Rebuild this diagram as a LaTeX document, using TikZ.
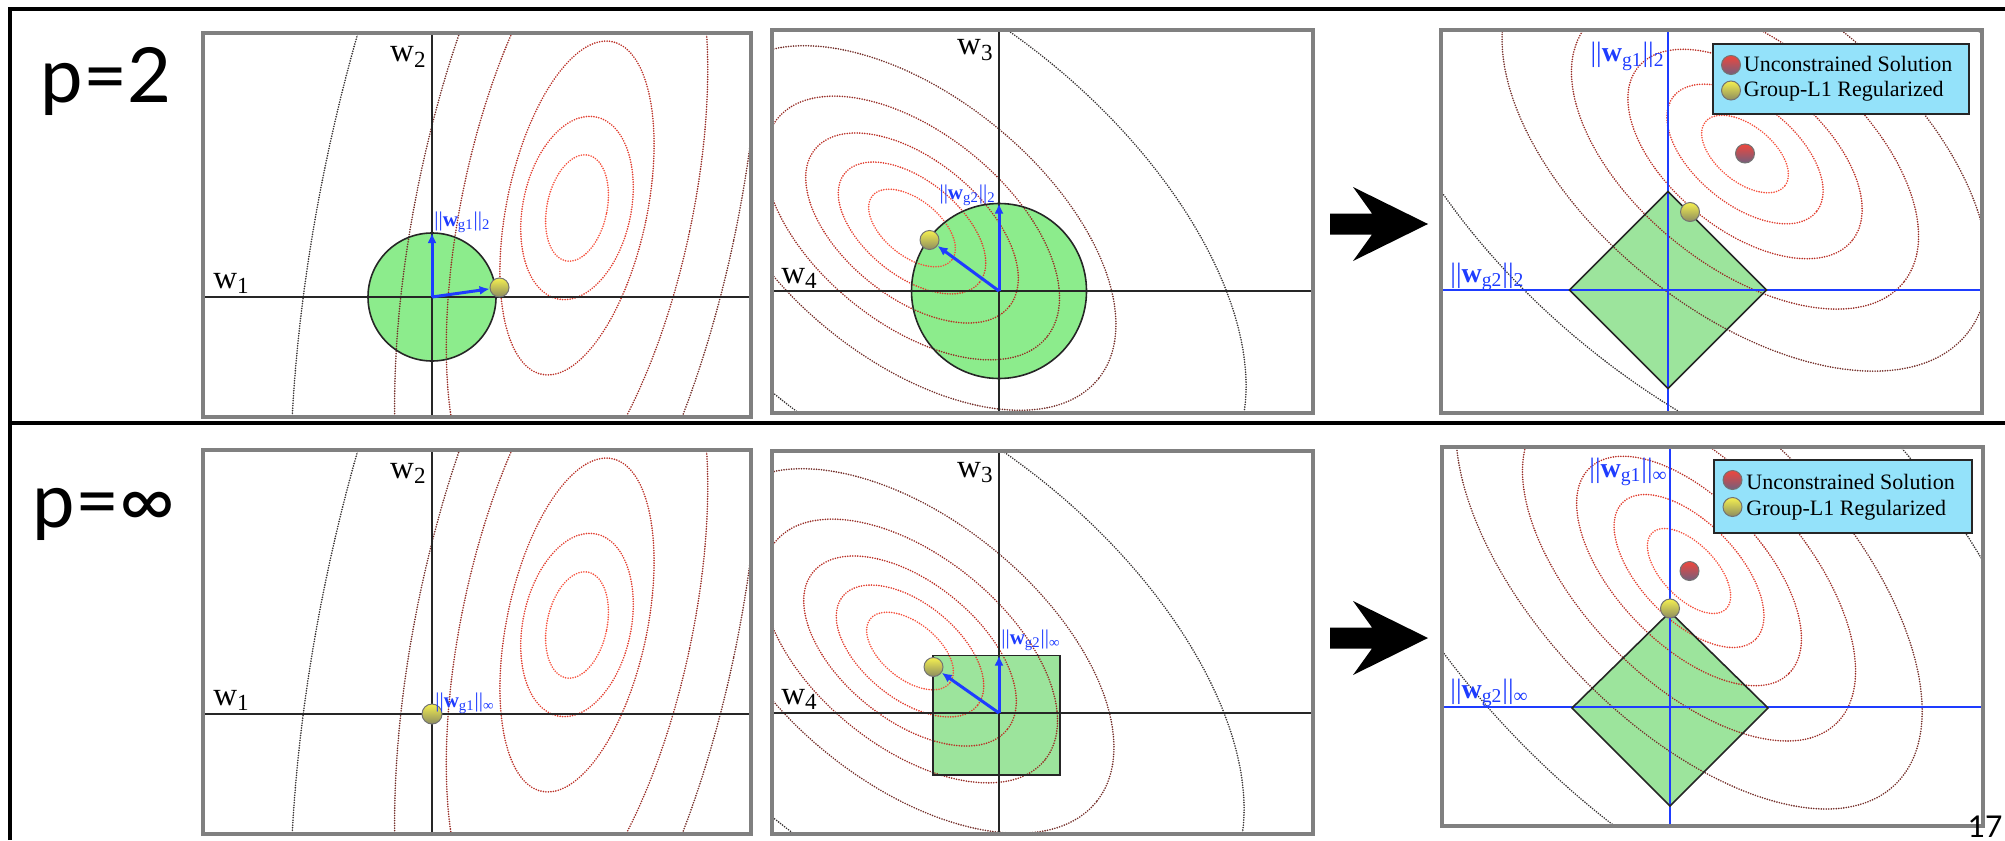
\documentclass[tikz,border=0pt]{standalone}
\usepackage{fontspec}
\setmainfont{Liberation Serif}
\newfontfamily\gill{Lato}
\usetikzlibrary{arrows.meta}
\definecolor{panelgray}{RGB}{128,128,128}
\definecolor{normblue}{RGB}{30,60,255}
\definecolor{circgreen}{RGB}{140,236,140}
\definecolor{diagreen}{RGB}{156,228,156}
\definecolor{legcyan}{RGB}{148,226,250}
\definecolor{lvA}{RGB}{245,80,60}
\definecolor{lvB}{RGB}{225,60,45}
\definecolor{lvC}{RGB}{185,45,35}
\definecolor{lvD}{RGB}{150,42,35}
\definecolor{lvE}{RGB}{115,45,40}
\definecolor{lvF}{RGB}{55,50,50}
\definecolor{ytop}{RGB}{245,240,80}
\definecolor{ybot}{RGB}{140,140,95}
\definecolor{rtop}{RGB}{240,70,60}
\definecolor{rbot}{RGB}{115,95,125}
\tikzset{
  panelbox/.style={draw=panelgray, line width=1.8pt},
  waxis/.style={draw=black!85, line width=1.2pt},
  baxis/.style={draw=normblue, line width=1.2pt},
  lvl/.style={line width=0.9pt, line cap=round, dash pattern=on 0pt off 1.25pt},
  normarrow/.style={draw=normblue, line width=1.5pt, -{Latex[length=5pt,width=4.5pt]}},
  wlabel/.style={font=\fontsize{16.5}{18}\selectfont, inner sep=0pt},
  nlabel/.style={text=normblue, font=\fontsize{10.5}{12}\selectfont, inner sep=0pt},
  nlabelbig/.style={text=normblue, font=\fontsize{14}{16}\selectfont, inner sep=0pt},
  ballnode/.style={circle, inner sep=0pt, minimum size=9.5pt, draw=black!55, line width=0.5pt},
  yball/.style={ballnode, top color=ytop, bottom color=ybot},
  rball/.style={ballnode, top color=rtop, bottom color=rbot},
  bigarrow/.style={fill=black},
  frameline/.style={draw=black, line width=1.8pt},
  legbox/.style={draw=black!85, line width=1pt, fill=legcyan, inner sep=0pt},
  legtext/.style={font=\fontsize{11}{13}\selectfont, inner sep=0pt, anchor=base west},
  plabel/.style={font=\gill\fontsize{38}{42}\selectfont, inner sep=0pt, anchor=base west},
  shapeline/.style={draw=black!85, line width=0.8pt},
}
\newcommand\nrm[2]{\textbar\textbar\textbf{w}\textsubscript{g#1}\textbar\textbar\textsubscript{#2}}
\newcommand\contA[2]{%
  \foreach \bb/\aa/\cc in {30/54/lvA,54/93/lvB,70/170/lvC,115/320/lvD,160/450/lvE,255/680/lvF}
    \draw[lvl,draw=\cc,rotate around={-12:(#1,#2)}] (#1,#2) ellipse [x radius=\bb, y radius=\aa];}
% #3 = rotation, #4 = list of scale factors (6 levels)
\newcommand\contB[3]{%
  \foreach \kk/\cc in {#3}
    \draw[lvl,draw=\cc,rotate around={-39:(#1,#2)}] (#1,#2) ellipse [x radius=51*\kk, y radius=28*\kk];}
\newcommand\contF[2]{%
  \foreach \kk/\cc in {1/lvA,1.8/lvB,2.7/lvC,4/lvD,5.6/lvE,8.9/lvF}
    \draw[lvl,draw=\cc,rotate around={-46:(#1,#2)}] (#1,#2) ellipse [x radius=53*\kk, y radius=27*\kk];}
\begin{document}
\begin{tikzpicture}[x=0.5pt,y=-0.5pt]
\useasboundingbox (0,0) rectangle (2005,840);
% outer frame
\draw[frameline] (10,840) -- (10,9) -- (2005,9);
\draw[frameline] (10,423) -- (2005,423);
\node[plabel] (ptwo) at (40,103) {p=2};
\node[plabel] (pinf) at (32,527) {p=∞};

% ---------- Panel A ----------
\coordinate (oA) at (432,297);
\begin{scope}
  \clip (203,33) rectangle (751,417);
  \fill[circgreen] (oA) circle [radius=64];
  \contA{577}{208}
  \draw[waxis] (432,33) -- (432,417);
  \draw[waxis] (203,297) -- (751,297);
\end{scope}
\draw[shapeline] (oA) circle [radius=64];
\coordinate (tA) at (432,233);
\node[yball] (yA) at (499.5,287.5) {};
\draw[normarrow] (oA) -- (tA);
\draw[normarrow] (oA) -- (yA);
\node[nlabel, anchor=base west] (lA) at (434,226) {\nrm{1}{2}};
\node[wlabel, anchor=base east] (w2A) at (427,62) {w\textsubscript{2}};
\node[wlabel, anchor=base west] (w1A) at (213,288) {w\textsubscript{1}};
\draw[panelbox] (203,33) rectangle (751,417);

% ---------- Panel B ----------
\coordinate (oB) at (999,291);
\begin{scope}
  \clip (772,30) rectangle (1313,413);
  \fill[circgreen] (oB) circle [radius=87.5];
  \contB{912}{228}{1/lvA,1.7/lvB,2.45/lvC,3.4/lvD,4.7/lvE,7.7/lvF}
  \draw[waxis] (999,30) -- (999,413);
  \draw[waxis] (772,291) -- (1313,291);
\end{scope}
\draw[shapeline] (oB) circle [radius=87.5];
\coordinate (tB) at (999,203.5);
\node[yball] (yB) at (929.5,240) {};
\draw[normarrow] (oB) -- (tB);
\draw[normarrow] (oB) -- (yB);
\node[nlabel, anchor=base east] (lB) at (996,199.5) {\nrm{2}{2}};
\node[wlabel, anchor=base east] (w3B) at (994,55) {w\textsubscript{3}};
\node[wlabel, anchor=base west] (w4B) at (781,283) {w\textsubscript{4}};
\draw[panelbox] (772,30) rectangle (1313,413);

% ---------- big arrow row 1 ----------
\fill[bigarrow] (1330,213.5) -- (1372,213.5) -- (1353,187) -- (1428,224) -- (1353,261) -- (1372,234.5) -- (1330,234.5) -- cycle;

% ---------- Panel C ----------
\coordinate (oC) at (1668,290);
\begin{scope}
  \clip (1441,30) rectangle (1982,413);
  \fill[diagreen] (1668,191.5) -- (1766.5,290) -- (1668,388.5) -- (1569.5,290) -- cycle;
  \contB{1745}{154}{1/lvA,1.8/lvB,2.7/lvC,4/lvD,5.6/lvE,8.9/lvF}
  \draw[baxis] (1668,30) -- (1668,413);
  \draw[baxis] (1441,290) -- (1982,290);
\end{scope}
\draw[shapeline] (1668,191.5) -- (1766.5,290) -- (1668,388.5) -- (1569.5,290) -- cycle;
\node[rball] (rC) at (1745,153.5) {};
\node[yball] (yC) at (1690,212) {};
\node[nlabelbig, anchor=base east] (l1C) at (1665,62) {\nrm{1}{2}};
\node[nlabelbig, anchor=base west] (l2C) at (1450,282) {\nrm{2}{2}};
\node[legbox, anchor=north west, minimum width=128pt, minimum height=35pt] (legC) at (1712,43) {};
\node[rball] (lrC) at (1731,65) {};
\node[yball] (lyC) at (1731,90.5) {};
\node[legtext] (ltuC) at (1743.5,72) {Unconstrained Solution};
\node[legtext] (ltgC) at (1743.5,97) {Group-L1 Regularized};
\draw[panelbox] (1441,30) rectangle (1982,413);

% ---------- Panel D ----------
\coordinate (oD) at (432,714);
\begin{scope}
  \clip (203,450) rectangle (751,834);
  \contA{577}{625}
  \draw[waxis] (432,450) -- (432,834);
  \draw[waxis] (203,714) -- (751,714);
\end{scope}
\node[yball, minimum size=10pt] (yD) at (oD) {};
\node[nlabel, anchor=base west] (lD) at (435,707) {\nrm{1}{∞}};
\node[wlabel, anchor=base east] (w2D) at (427,478) {w\textsubscript{2}};
\node[wlabel, anchor=base west] (w1D) at (213,705) {w\textsubscript{1}};
\draw[panelbox] (203,450) rectangle (751,834);

% ---------- Panel E ----------
\coordinate (oE) at (999,713);
\begin{scope}
  \clip (772,451) rectangle (1313,834);
  \fill[diagreen] (933,655.5) rectangle (1060,775);
  \contB{910}{651}{1/lvA,1.7/lvB,2.45/lvC,3.4/lvD,4.7/lvE,7.7/lvF}
  \draw[waxis] (999,451) -- (999,834);
  \draw[waxis] (772,713) -- (1313,713);
\end{scope}
\draw[shapeline] (933,655.5) rectangle (1060,775);
\coordinate (tE) at (999,655.5);
\node[yball] (yE) at (933.5,667) {};
\draw[normarrow] (oE) -- (tE);
\draw[normarrow] (oE) -- (yE);
\node[nlabel, anchor=base west] (lE) at (1001,644) {\nrm{2}{∞}};
\node[wlabel, anchor=base east] (w3E) at (994,477) {w\textsubscript{3}};
\node[wlabel, anchor=base west] (w4E) at (781,704) {w\textsubscript{4}};
\draw[panelbox] (772,451) rectangle (1313,834);

% ---------- big arrow row 2 ----------
\begin{scope}[shift={(0,414)}]
\fill[bigarrow] (1330,213.5) -- (1372,213.5) -- (1353,187) -- (1428,224) -- (1353,261) -- (1372,234.5) -- (1330,234.5) -- cycle;
\end{scope}

% ---------- Panel F ----------
\coordinate (oF) at (1670,707);
\begin{scope}
  \clip (1442,447) rectangle (1983,826);
  \fill[diagreen] (1670,612) -- (1768,708) -- (1670,806) -- (1572,708) -- cycle;
  \contF{1689}{571}
  \draw[baxis] (1670,447) -- (1670,826);
  \draw[baxis] (1442,707) -- (1983,707);
\end{scope}
\draw[shapeline] (1670,612) -- (1768,708) -- (1670,806) -- (1572,708) -- cycle;
\node[rball] (rF) at (1689.5,571) {};
\node[yball] (yF) at (1670,608.5) {};
\node[nlabelbig, anchor=base east] (l1F) at (1668,477) {\nrm{1}{∞}};
\node[nlabelbig, anchor=base west] (l2F) at (1450,698) {\nrm{2}{∞}};
\node[legbox, anchor=north west, minimum width=129pt, minimum height=36.5pt] (legF) at (1713,459) {};
\node[rball] (lrF) at (1732.5,480) {};
\node[yball] (lyF) at (1732.5,507) {};
\node[legtext] (ltuF) at (1746,489) {Unconstrained Solution};
\node[legtext] (ltgF) at (1746,515) {Group-L1 Regularized};
\draw[panelbox] (1442,447) rectangle (1983,826);

\node[font=\gill\fontsize{15}{17}\selectfont, inner sep=0pt, anchor=base east] (pg) at (2003,837) {17};
\end{tikzpicture}
\end{document}
